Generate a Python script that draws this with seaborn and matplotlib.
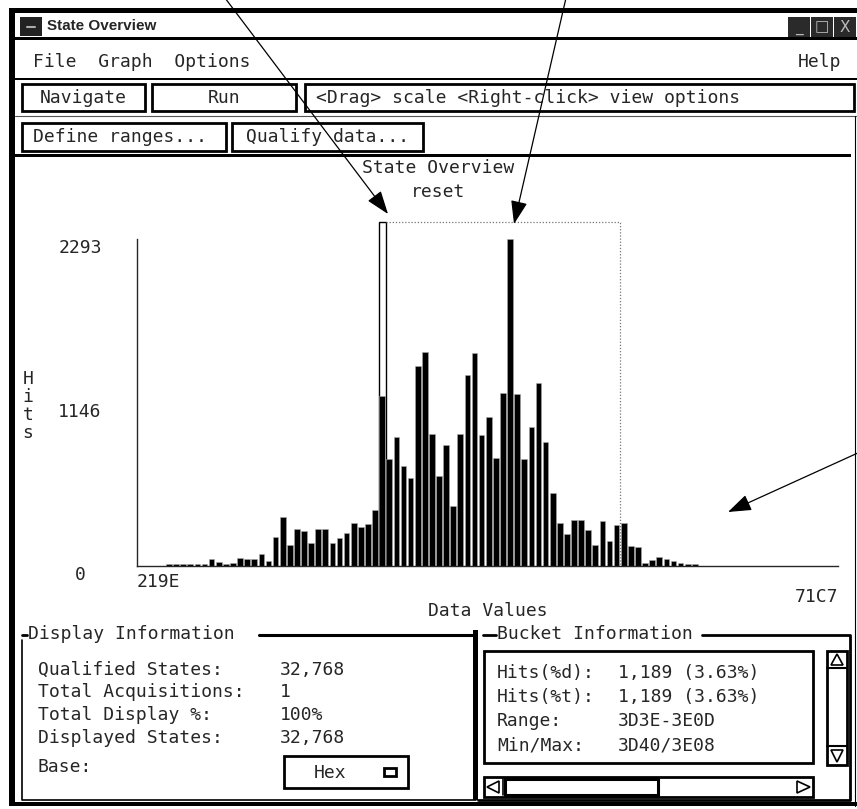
import numpy as np
import pandas as pd
import matplotlib
matplotlib.use("Agg")
import matplotlib.pyplot as plt
from matplotlib.patches import Rectangle, Polygon
import seaborn as sns

# hits per bucket, read left to right off the histogram
hits = [12, 12, 12, 12, 12, 12, 47, 28, 14, 23, 58, 47, 47, 86, 35,
        206, 343, 145, 262, 243, 159, 262, 262, 159, 194, 234, 304, 273, 294, 393,
        1189,
        752, 908, 701, 619, 1402, 1503, 927, 631, 849, 423, 927, 1337, 1496, 918,
        1047, 759, 1215, 2293, 1208, 752, 977, 1285, 869, 514,
        304, 227, 325, 325, 255, 145, 313, 175, 285, 304, 140, 131,
        19, 42, 61, 51, 33, 21, 12, 12]
first_bucket = 0x24DE
bucket_width = 0xD0
selected_bucket = 30        # 3D3E-3E0D
range_end_bucket = 64
axis_lo, axis_hi = 0x219E, 0x71C7
y_ticks = [0, 1146, 2293]
y_top = 2430

display_labels = ["Qualified States:", "Total Acquisitions:", "Total Display %:", "Displayed States:", "Base:"]
display_values = ["32,768", "1", "100%", "32,768", ""]
bucket_labels = ["Hits(%d):", "Hits(%t):", "Range:", "Min/Max:"]
bucket_values = ["1,189 (3.63%)", "1,189 (3.63%)", "3D3E-3E0D", "3D40/3E08"]

sns.set_style("white")
plt.rcParams['font.family'] = ['DejaVu Sans Mono', 'DejaVu Sans']
MONO = 'DejaVu Sans Mono'
FS = 13

W, H = 857, 809
fig = plt.figure(figsize=(W / 100, H / 100), dpi=100)
fig.patch.set_facecolor('white')

# background layer in pixel coordinates for the window chrome
bg = fig.add_axes([0, 0, 1, 1], zorder=0)
bg.set_xlim(0, W)
bg.set_ylim(H, 0)
bg.axis('off')


def box(x0, y0, x1, y1, lw=1.0, fc='white', ec='black', z=1):
    bg.add_patch(Rectangle((x0, y0), x1 - x0, y1 - y0, lw=lw, fc=fc, ec=ec, zorder=z))


def txt(x, y, s, **kw):
    kw.setdefault('fontsize', FS)
    kw.setdefault('family', MONO)
    kw.setdefault('va', 'center')
    bg.text(x, y, s, **kw)


# window frame and title bar
box(9, 8, W + 2, 13, lw=0, fc='black')
box(9, 8, 15, 806, lw=0, fc='black')
box(9, 802, W + 2, 806, lw=0, fc='black')
box(15, 37, W + 2, 40, lw=0, fc='black')
box(20, 17, 42, 36, lw=0, fc='#222222')
bg.plot([27, 35], [27, 27], color='#aaaaaa', lw=1.5)
bg.text(47, 26, "State Overview", fontsize=11, family='Liberation Sans', weight='bold', va='center')
for x0, glyph in zip([788, 811, 834], ["_", "□", "X"]):
    box(x0, 17, x0 + 22, 37, lw=0, fc='#2a2a2a')
    bg.text(x0 + 11, 27, glyph, color='#bbbbbb', fontsize=11, ha='center', va='center', family='DejaVu Sans')

# menu bar
box(15, 78, W + 2, 80, lw=0, fc='black')
txt(33, 62, "File  Graph  Options")
txt(798, 62, "Help")

# button rows
box(22, 84, 145, 111, lw=2)
txt(83, 98, "Navigate", ha='center')
box(152, 84, 296, 111, lw=2)
txt(224, 98, "Run", ha='center')
box(305, 84, 854, 111, lw=2)
txt(316, 98, "<Drag> scale <Right-click> view options")
bg.plot([15, W], [116, 116], color='#555555', lw=0.8)
box(22, 123, 226, 151, lw=2)
txt(33, 137, "Define ranges...")
box(232, 123, 423, 151, lw=2)
txt(246, 137, "Qualify data...")
box(15, 154, 851, 156.5, lw=0, fc='black')
bg.plot([855, 855], [116, 806], color='black', lw=0.8)

# plot title
txt(438, 168, "State Overview", ha='center')
txt(438, 192, "reset", ha='center')

# Display Information group
bg.plot([22, 22, 476], [640, 800, 800], color='black', lw=1.2)
bg.plot([22, 27], [635, 635], color='black', lw=2)
bg.plot([259, 476], [635, 635], color='black', lw=2.2)
txt(28, 634, "Display Information")
for i, (lab, val) in enumerate(zip(display_labels, display_values)):
    yy = [670, 692, 715, 738, 767][i]
    txt(38, yy, lab)
    txt(280, yy, val)
box(284, 756, 408, 788, lw=2)
txt(330, 773, "Hex", ha='center')
box(384, 768, 396, 776, lw=2)

# Bucket Information group
box(473, 630, 478, 800, lw=0, fc='black')
bg.plot([483, 496], [635, 635], color='black', lw=2)
bg.plot([702, 850, 850, 478], [635, 635, 800, 800], color='black', lw=2)
txt(497, 634, "Bucket Information")
box(484, 651, 813, 763, lw=2)
for i, (lab, val) in enumerate(zip(bucket_labels, bucket_values)):
    yy = [673, 697, 721, 746][i]
    txt(497, yy, lab)
    txt(618, yy, val)
# vertical scrollbar
box(827, 651, 847, 765, lw=2)
bg.plot([827, 847], [668, 668], color='black', lw=1.5)
bg.plot([827, 847], [746, 746], color='black', lw=1.5)
bg.add_patch(Polygon([[837, 654], [831, 665], [843, 665]], closed=True, fc='white', ec='black', lw=1.2))
bg.add_patch(Polygon([[837, 762], [831, 750], [843, 750]], closed=True, fc='white', ec='black', lw=1.2))
# horizontal scrollbar
box(484, 777, 813, 797, lw=2)
bg.add_patch(Polygon([[487, 787], [499, 781], [499, 793]], closed=True, fc='white', ec='black', lw=1.2))
bg.plot([503, 503], [779, 795], color='black', lw=1.2)
box(505, 779, 658, 795, lw=2.2)
bg.add_patch(Polygon([[810, 787], [797, 781], [797, 793]], closed=True, fc='white', ec='black', lw=1.2))

# histogram axes
px_per_hit = (566 - 239) / 2293
ax_top = 566 - y_top * px_per_hit
ax = fig.add_axes([137 / W, 1 - 566 / H, (838 - 137) / W, (566 - ax_top) / H], zorder=1)
ax.patch.set_alpha(0)

n = len(hits)
lo = first_bucket + bucket_width * np.arange(n)
buckets = pd.DataFrame({'value': lo + bucket_width / 2, 'hits': hits})
sel_lo = lo[selected_bucket]

# selected bucket highlight and dotted range marker
ax.bar(sel_lo, y_top - 20, width=bucket_width, align='edge', facecolor='white',
       edgecolor='black', linewidth=1.0, zorder=0.5)
sns.histplot(data=buckets, x='value', weights='hits', binwidth=bucket_width,
             binrange=(lo[0], lo[-1] + bucket_width), stat='count',
             shrink=0.8, color='black', alpha=1.0, edgecolor='#aaaaaa', linewidth=0.4, ax=ax)
ax.plot([sel_lo + bucket_width, lo[range_end_bucket], lo[range_end_bucket]],
        [y_top - 20, y_top - 20, 0], linestyle=(0, (1, 1.5)), color='#777777', lw=0.9, zorder=3)

ax.set_xlim(axis_lo, axis_hi)
ax.set_ylim(0, y_top)
sns.despine(ax=ax, top=True, right=True)
ax.spines['left'].set_bounds(0, max(hits))
ax.spines['left'].set_linewidth(1.0)
ax.spines['bottom'].set_linewidth(1.0)

ax.set_yticks(y_ticks)
ax.set_yticklabels([str(v) for v in y_ticks], family=MONO, fontsize=FS)
ax.tick_params(axis='y', length=0, pad=41)
for lbl in ax.get_yticklabels():
    lbl.set_ha('center')
    lbl.set_va('top')

ax.set_xticks([])
ax.set_xticks([axis_hi], minor=True)
ax.tick_params(axis='x', which='minor', length=7, width=1, direction='out', labelbottom=False)
ax.annotate(f"{axis_lo:X}", xy=(axis_lo, 0), xycoords=('data', 'axes fraction'),
            xytext=(0, -16), textcoords='offset pixels', ha='left', va='center',
            family=MONO, fontsize=FS)
ax.annotate(f"{axis_hi:X}", xy=(axis_hi, 0), xycoords=('data', 'axes fraction'),
            xytext=(0, -31), textcoords='offset pixels', ha='right', va='center',
            family=MONO, fontsize=FS)

ax.set_xlabel("Data Values", family=MONO, fontsize=FS, va='center')
ax.xaxis.set_label_coords(0.5, (566 - 611) / (566 - ax_top))
ax.set_ylabel("H\ni\nt\ns", family=MONO, fontsize=FS, rotation=0, ha='center', va='center',
              linespacing=1.02)
ax.yaxis.set_label_coords((28 - 137) / 701, (566 - 406) / (566 - ax_top))

# overlay with the pointer arrows
ov = fig.add_axes([0, 0, 1, 1], zorder=5)
ov.set_xlim(0, W)
ov.set_ylim(H, 0)
ov.axis('off')
ov.patch.set_alpha(0)
arrow_kw = dict(arrowstyle='-|>,head_length=0.9,head_width=0.32', color='black', lw=0.9,
                mutation_scale=16, shrinkA=0, shrinkB=0)
for start, tip in [((225, -2), (388, 214)), ((566, -2), (514, 224)), ((860, 452), (728, 512))]:
    ov.annotate('', xy=tip, xytext=start, arrowprops=arrow_kw, annotation_clip=False)

fig.savefig('out.png', dpi=100)
